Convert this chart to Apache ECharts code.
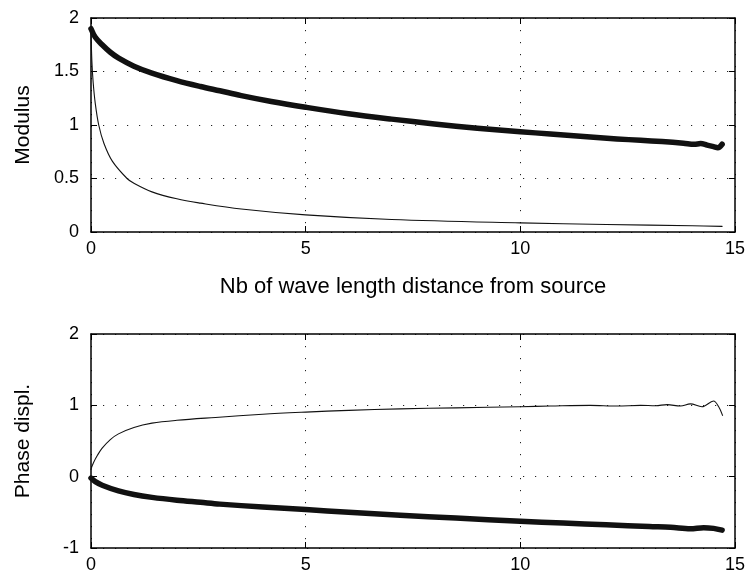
<!DOCTYPE html>
<html><head><meta charset="utf-8">
<script src="https://cdn.jsdelivr.net/npm/echarts@6/dist/echarts.min.js"></script>
<style>html,body{margin:0;padding:0;background:#fff}#c{width:749px;height:579px}</style>
</head><body><div id="c"></div>
<script>
// Top panel: modulus
const modThickX = [0, 0.1, 0.26, 0.45, 0.645, 1.0, 1.42, 2.0, 2.55, 3.0, 3.5, 4.2, 5, 6, 7.0, 8, 9, 10, 10.7, 11.63, 12.25, 12.8, 13.3, 13.8, 14.05, 14.2, 14.35, 14.5, 14.6, 14.7];
const modThickY = [1.9, 1.82, 1.75, 1.68, 1.625, 1.55, 1.485, 1.415, 1.36, 1.32, 1.275, 1.22, 1.166, 1.105, 1.055, 1.01, 0.97, 0.937, 0.916, 0.888, 0.87, 0.857, 0.845, 0.83, 0.82, 0.826, 0.812, 0.798, 0.788, 0.82];
const modThinX = [0, 0.02, 0.05, 0.1, 0.18, 0.3, 0.5, 0.84, 1.0, 1.42, 2.0, 2.55, 3.5, 5, 7, 10, 12, 14, 14.7];
const modThinY = [1.9, 1.6, 1.4, 1.2, 1.0, 0.83, 0.66, 0.5, 0.455, 0.375, 0.31, 0.27, 0.215, 0.16, 0.117, 0.085, 0.07, 0.058, 0.053];
// Bottom panel: phase
const phThinX = [0, 0.02, 0.06, 0.15, 0.26, 0.45, 0.64, 1.0, 1.42, 2.0, 2.9, 4, 5, 6, 7.2, 8.5, 10, 10.7, 11.63, 12.25, 12.8, 13.15, 13.42, 13.73, 13.96, 14.23, 14.5, 14.62, 14.71];
const phThinY = [0.1, 0.14, 0.2, 0.3, 0.4, 0.52, 0.6, 0.69, 0.75, 0.79, 0.83, 0.875, 0.905, 0.93, 0.95, 0.965, 0.98, 0.99, 1.0, 0.99, 1.0, 0.995, 1.01, 0.99, 1.02, 0.98, 1.06, 0.98, 0.86];
const phThickX = [0, 0.1, 0.26, 0.64, 1.0, 1.42, 2.0, 2.55, 3.0, 4, 5, 6, 7.2, 8.5, 10, 11, 12, 13.0, 13.5, 13.96, 14.27, 14.5, 14.7];
const phThickY = [-0.02, -0.07, -0.12, -0.2, -0.25, -0.29, -0.33, -0.36, -0.385, -0.425, -0.46, -0.5, -0.54, -0.58, -0.625, -0.65, -0.675, -0.7, -0.71, -0.73, -0.715, -0.725, -0.75];

const xTicks = [0, 5, 10, 15];
const topYTicks = [0, 0.5, 1, 1.5, 2];
const botYTicks = [-1, 0, 1, 2];
const xLabel = 'Nb of wave length distance from source';
const topYName = 'Modulus';
const botYName = 'Phase displ.';

const zip = (xs, ys) => xs.map((x, i) => [x, ys[i]]);
const FONT = 'Liberation Sans';
const dotted = {type: [1.2, 10.8], color: '#222', width: 1};

function xAx(gi, name) {
  return [{
    gridIndex: gi, type: 'value', min: xTicks[0], max: xTicks[xTicks.length - 1], interval: 5,
    name: name, nameLocation: 'middle', nameGap: 44,
    nameTextStyle: {fontFamily: FONT, fontSize: 22, color: '#000'},
    axisLine: {show: true, onZero: false, lineStyle: {color: '#000', width: 1.5}},
    axisTick: {show: true, inside: true, length: 6, lineStyle: {color: '#000'}},
    axisLabel: {fontFamily: FONT, fontSize: 18, color: '#000', margin: 8},
    splitLine: {show: true, lineStyle: dotted}
  }, {
    gridIndex: gi, type: 'value', min: xTicks[0], max: xTicks[xTicks.length - 1], interval: 5, position: 'top',
    axisLine: {show: true, onZero: false, lineStyle: {color: '#000', width: 1.5}},
    axisTick: {show: true, inside: true, length: 6, lineStyle: {color: '#000'}},
    axisLabel: {show: false}, splitLine: {show: false}
  }];
}
function yAx(gi, min, max, interval, name) {
  return [{
    gridIndex: gi, type: 'value', min: min, max: max, interval: interval,
    name: name, nameLocation: 'middle', nameGap: 57, nameRotate: 90,
    nameTextStyle: {fontFamily: FONT, fontSize: 21, color: '#000'},
    axisLine: {show: true, onZero: false, lineStyle: {color: '#000', width: 1.5}},
    axisTick: {show: true, inside: true, length: 6, lineStyle: {color: '#000'}},
    axisLabel: {fontFamily: FONT, fontSize: 18, color: '#000', margin: 12},
    splitLine: {show: true, lineStyle: dotted}
  }, {
    gridIndex: gi, type: 'value', min: min, max: max, interval: interval, position: 'right',
    axisLine: {show: true, onZero: false, lineStyle: {color: '#000', width: 1.5}},
    axisTick: {show: true, inside: true, length: 6, lineStyle: {color: '#000'}},
    axisLabel: {show: false}, splitLine: {show: false}
  }];
}

const chart = echarts.init(document.getElementById('c'), null, {renderer: 'canvas'});
const lineS = (xi, yi, data, w) => ({
  type: 'line', xAxisIndex: xi, yAxisIndex: yi, data: data, showSymbol: false, smooth: 0.35,
  lineStyle: {color: '#111', width: w, cap: 'round', join: 'round'}, silent: true, animation: false
});
chart.setOption({
  animation: false,
  backgroundColor: '#fff',
  grid: [
    {left: 91, top: 18, width: 644, height: 214},
    {left: 91, top: 334, width: 644, height: 214}
  ],
  xAxis: [...xAx(0, xLabel), ...xAx(1, '')],
  yAxis: [...yAx(0, topYTicks[0], topYTicks[topYTicks.length - 1], 0.5, topYName),
          ...yAx(1, botYTicks[0], botYTicks[botYTicks.length - 1], 1, botYName)],
  series: [
    lineS(0, 0, zip(modThinX, modThinY), 1.1),
    lineS(0, 0, zip(modThickX, modThickY), 5.5),
    lineS(2, 2, zip(phThinX, phThinY), 1.1),
    lineS(2, 2, zip(phThickX, phThickY), 5.5)
  ]
});
</script></body></html>
